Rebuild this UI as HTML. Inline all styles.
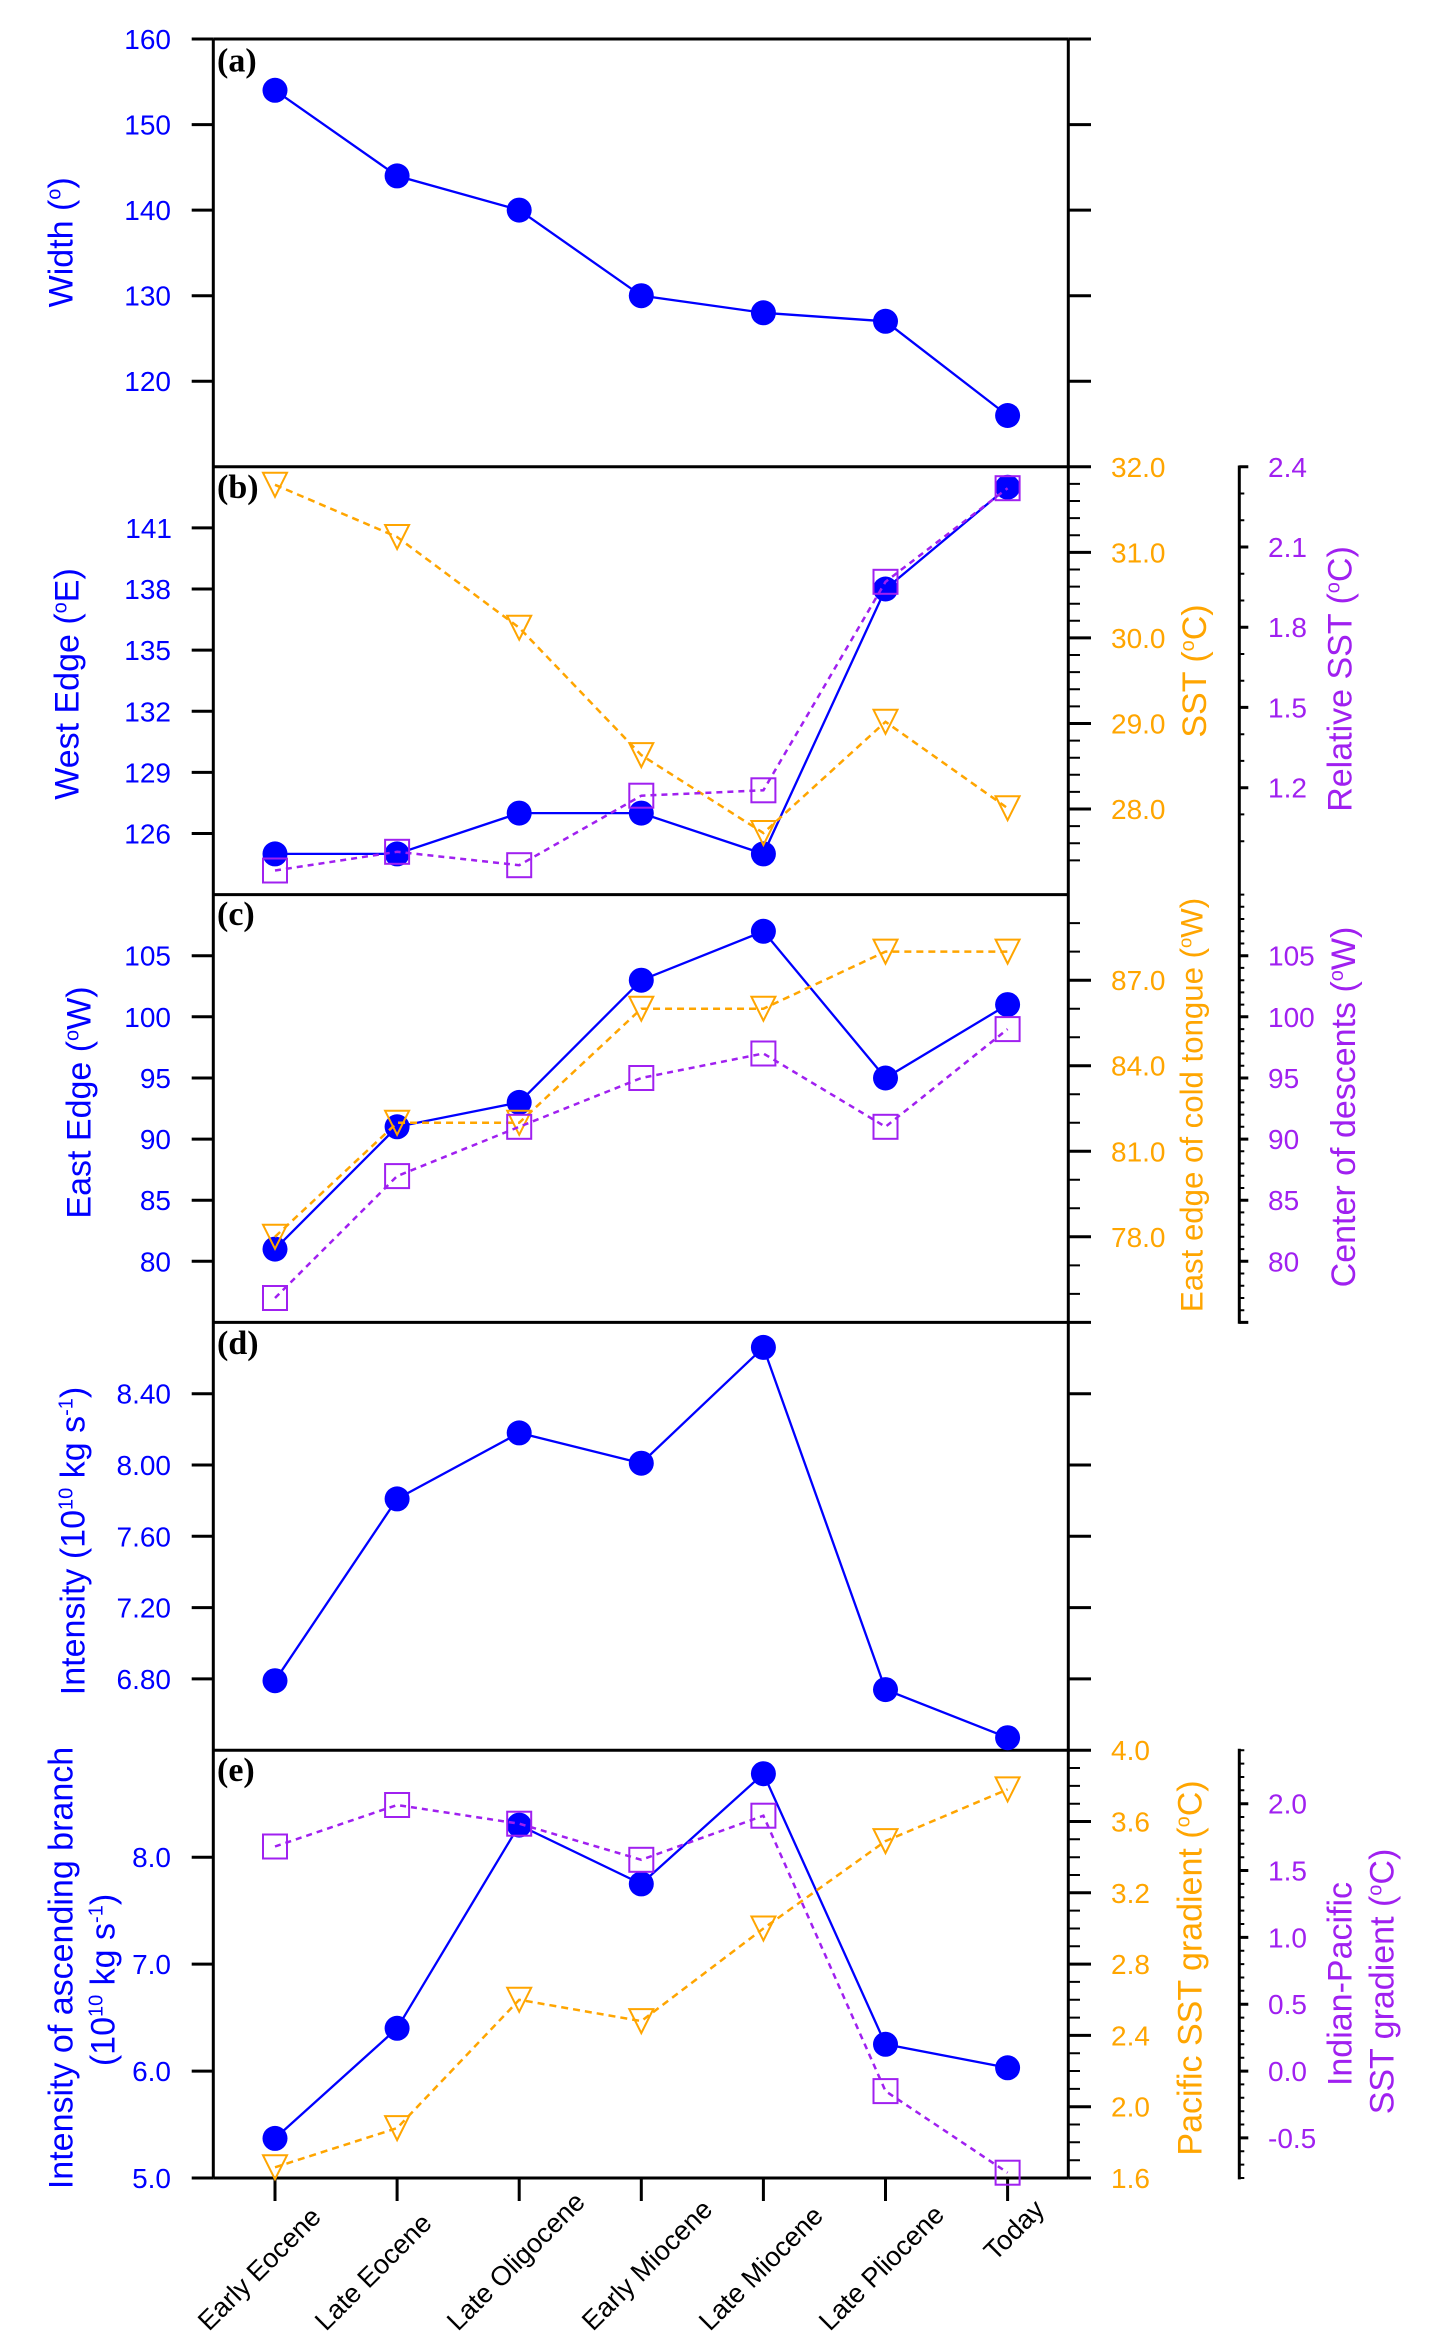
<!DOCTYPE html>
<html>
<head>
<meta charset="utf-8">
<style>
html,body{margin:0;padding:0;background:#fff;}
svg{display:block;}
text{font-family:"Liberation Sans",Arial,sans-serif;}
.pl{font-family:"Liberation Serif","Times New Roman",serif;font-weight:bold;font-size:34px;fill:#000;}
.tb{font-size:28px;fill:#0000FF;}
.to{font-size:28px;fill:#FFA500;}
.tp{font-size:28px;fill:#A020F0;}
.ttl{font-size:34px;}
.xl{font-size:27px;fill:#000;}
</style>
</head>
<body>
<svg width="1440" height="2351" viewBox="0 0 1440 2351" xmlns="http://www.w3.org/2000/svg">
<rect x="0" y="0" width="1440" height="2351" fill="#fff"/>

<!-- frames -->
<g stroke="#000" stroke-width="3" fill="none">
  <path d="M213.3 39 V2178 M1068.3 39 V2178 M213.3 39 H1068.3 M213.3 466.8 H1068.3 M213.3 894.6 H1068.3 M213.3 1322.4 H1068.3 M213.3 1750.2 H1068.3 M213.3 2178 H1068.3"/>
  <!-- left ticks -->
  <path d="M191.7 39 H213.3 M191.7 124.6 H213.3 M191.7 210.1 H213.3 M191.7 295.7 H213.3 M191.7 381.2 H213.3
  M191.7 527.9 H213.3 M191.7 589.0 H213.3 M191.7 650.1 H213.3 M191.7 711.3 H213.3 M191.7 772.4 H213.3 M191.7 833.5 H213.3
  M191.7 955.7 H213.3 M191.7 1016.8 H213.3 M191.7 1078.0 H213.3 M191.7 1139.1 H213.3 M191.7 1200.2 H213.3 M191.7 1261.3 H213.3
  M191.7 1393.7 H213.3 M191.7 1465.0 H213.3 M191.7 1536.3 H213.3 M191.7 1607.6 H213.3 M191.7 1678.9 H213.3
  M191.7 1857.2 H213.3 M191.7 1964.1 H213.3 M191.7 2071.1 H213.3 M191.7 2178.0 H213.3"/>
  <!-- right major ticks -->
  <path d="M1068.3 39 H1091 M1068.3 124.6 H1091 M1068.3 210.1 H1091 M1068.3 295.7 H1091 M1068.3 381.2 H1091
  M1068.3 466.8 H1091 M1068.3 552.4 H1091 M1068.3 637.9 H1091 M1068.3 723.5 H1091 M1068.3 809.0 H1091
  M1068.3 980.2 H1091 M1068.3 1065.7 H1091 M1068.3 1151.3 H1091 M1068.3 1236.8 H1091 M1068.3 1322.4 H1091
  M1068.3 1393.7 H1091 M1068.3 1465.0 H1091 M1068.3 1536.3 H1091 M1068.3 1607.6 H1091 M1068.3 1678.9 H1091
  M1068.3 1750.2 H1091 M1068.3 1821.5 H1091 M1068.3 1892.8 H1091 M1068.3 1964.1 H1091 M1068.3 2035.4 H1091 M1068.3 2106.7 H1091 M1068.3 2178.0 H1091"/>
  <!-- bottom ticks -->
  <path d="M275 2178 V2201 M397.1 2178 V2201 M519.2 2178 V2201 M641.3 2178 V2201 M763.4 2178 V2201 M885.5 2178 V2201 M1007.6 2178 V2201"/>
  <!-- purple axes lines -->
  <path d="M1239.3 465.5 V1323.8 M1239.3 1748.8 V2179.4"/>
  <!-- purple major ticks -->
  <path d="M1239.3 466.8 h9 M1239.3 547.0 h9 M1239.3 627.2 h9 M1239.3 707.4 h9 M1239.3 787.7 h9
  M1239.3 955.7 h9 M1239.3 1016.8 h9 M1239.3 1078.0 h9 M1239.3 1139.1 h9 M1239.3 1200.2 h9 M1239.3 1261.3 h9 M1239.3 1322.4 h9
  M1239.3 1803.7 h9 M1239.3 1870.5 h9 M1239.3 1937.4 h9 M1239.3 2004.2 h9 M1239.3 2071.1 h9 M1239.3 2137.9 h9"/>
</g>
<g stroke="#000" stroke-width="2" fill="none">
  <!-- orange minor ticks on main right axis -->
  <path d="M1068.3 483.9 H1080 M1068.3 501.0 H1080 M1068.3 518.1 H1080 M1068.3 535.3 H1080
  M1068.3 569.5 H1080 M1068.3 586.6 H1080 M1068.3 603.7 H1080 M1068.3 620.8 H1080
  M1068.3 655.0 H1080 M1068.3 672.1 H1080 M1068.3 689.3 H1080 M1068.3 706.4 H1080
  M1068.3 740.6 H1080 M1068.3 757.7 H1080 M1068.3 774.8 H1080 M1068.3 791.9 H1080
  M1068.3 826.1 H1080 M1068.3 843.2 H1080 M1068.3 860.4 H1080
  M1068.3 923.1 H1080 M1068.3 951.6 H1080 M1068.3 1008.7 H1080 M1068.3 1037.2 H1080 M1068.3 1094.2 H1080 M1068.3 1122.8 H1080
  M1068.3 1179.8 H1080 M1068.3 1208.3 H1080 M1068.3 1265.4 H1080 M1068.3 1293.9 H1080
  M1068.3 1768.0 H1080 M1068.3 1785.9 H1080 M1068.3 1803.7 H1080 M1068.3 1839.3 H1080 M1068.3 1857.2 H1080 M1068.3 1875.0 H1080
  M1068.3 1910.6 H1080 M1068.3 1928.5 H1080 M1068.3 1946.3 H1080 M1068.3 1981.9 H1080 M1068.3 1999.8 H1080 M1068.3 2017.6 H1080
  M1068.3 2053.2 H1080 M1068.3 2071.0 H1080 M1068.3 2088.9 H1080 M1068.3 2124.5 H1080 M1068.3 2142.3 H1080 M1068.3 2160.2 H1080"/>
  <!-- purple minor ticks -->
  <path d="M1239.3 493.5 h5 M1239.3 520.3 h5 M1239.3 573.8 h5 M1239.3 600.5 h5 M1239.3 654.0 h5 M1239.3 680.7 h5
  M1239.3 734.2 h5 M1239.3 760.9 h5 M1239.3 814.4 h5 M1239.3 841.2 h5
  M1239.3 894.6 h5 M1239.3 906.8 h5 M1239.3 919.0 h5 M1239.3 931.3 h5 M1239.3 943.5 h5 M1239.3 967.9 h5 M1239.3 980.2 h5
  M1239.3 992.4 h5 M1239.3 1004.6 h5 M1239.3 1029.1 h5 M1239.3 1041.3 h5 M1239.3 1053.5 h5 M1239.3 1065.7 h5
  M1239.3 1090.2 h5 M1239.3 1102.4 h5 M1239.3 1114.6 h5 M1239.3 1126.8 h5 M1239.3 1151.3 h5 M1239.3 1163.5 h5
  M1239.3 1175.7 h5 M1239.3 1188.0 h5 M1239.3 1212.4 h5 M1239.3 1224.6 h5 M1239.3 1236.8 h5 M1239.3 1249.1 h5
  M1239.3 1273.5 h5 M1239.3 1285.7 h5 M1239.3 1298.0 h5 M1239.3 1310.2 h5
  M1239.3 1750.2 h5 M1239.3 1763.6 h5 M1239.3 1777.0 h5 M1239.3 1790.3 h5 M1239.3 1817.0 h5 M1239.3 1830.4 h5
  M1239.3 1843.8 h5 M1239.3 1857.2 h5 M1239.3 1883.9 h5 M1239.3 1897.3 h5 M1239.3 1910.6 h5 M1239.3 1924.0 h5
  M1239.3 1950.7 h5 M1239.3 1964.1 h5 M1239.3 1977.5 h5 M1239.3 1990.8 h5 M1239.3 2017.6 h5 M1239.3 2030.9 h5
  M1239.3 2044.3 h5 M1239.3 2057.7 h5 M1239.3 2084.4 h5 M1239.3 2097.8 h5 M1239.3 2111.2 h5 M1239.3 2124.5 h5
  M1239.3 2151.3 h5 M1239.3 2164.6 h5 M1239.3 2178.0 h5"/>
</g>

<!-- left tick labels -->
<g class="tb" text-anchor="end">
  <text x="171" y="49">160</text><text x="171" y="134.6">150</text><text x="171" y="220.1">140</text><text x="171" y="305.7">130</text><text x="171" y="391.2">120</text>
  <text x="172" y="537.9">141</text><text x="171" y="599.0">138</text><text x="171" y="660.1">135</text><text x="171" y="721.3">132</text><text x="171" y="782.4">129</text><text x="171" y="843.5">126</text>
  <text x="171" y="965.7">105</text><text x="171" y="1026.8">100</text><text x="171" y="1088.0">95</text><text x="171" y="1149.1">90</text><text x="171" y="1210.2">85</text><text x="171" y="1271.3">80</text>
  <text x="171" y="1403.7">8.40</text><text x="171" y="1475.0">8.00</text><text x="171" y="1546.3">7.60</text><text x="171" y="1617.6">7.20</text><text x="171" y="1688.9">6.80</text>
  <text x="171" y="1867.2">8.0</text><text x="171" y="1974.1">7.0</text><text x="171" y="2081.1">6.0</text><text x="171" y="2188.0">5.0</text>
</g>
<!-- orange labels -->
<g class="to">
  <text x="1111" y="476.8">32.0</text><text x="1111" y="562.4">31.0</text><text x="1111" y="647.9">30.0</text><text x="1111" y="733.5">29.0</text><text x="1111" y="819.0">28.0</text>
  <text x="1111" y="990.2">87.0</text><text x="1111" y="1075.7">84.0</text><text x="1111" y="1161.3">81.0</text><text x="1111" y="1246.8">78.0</text>
  <text x="1111" y="1760.2">4.0</text><text x="1111" y="1831.5">3.6</text><text x="1111" y="1902.8">3.2</text><text x="1111" y="1974.1">2.8</text><text x="1111" y="2045.4">2.4</text><text x="1111" y="2116.7">2.0</text><text x="1111" y="2188.0">1.6</text>
</g>
<!-- purple labels -->
<g class="tp">
  <text x="1268" y="476.8">2.4</text><text x="1268" y="557.0">2.1</text><text x="1268" y="637.2">1.8</text><text x="1268" y="717.4">1.5</text><text x="1268" y="797.7">1.2</text>
  <text x="1268" y="965.7">105</text><text x="1268" y="1026.8">100</text><text x="1268" y="1088.0">95</text><text x="1268" y="1149.1">90</text><text x="1268" y="1210.2">85</text><text x="1268" y="1271.3">80</text>
  <text x="1268" y="1813.7">2.0</text><text x="1268" y="1880.5">1.5</text><text x="1268" y="1947.4">1.0</text><text x="1268" y="2014.2">0.5</text><text x="1268" y="2081.1">0.0</text><text x="1268" y="2147.9">-0.5</text>
</g>

<!-- axis titles -->
<g class="ttl" text-anchor="middle">
  <text fill="#0000FF" transform="translate(72.7,242.3) rotate(-90)">Width (<tspan font-size="20" dy="-12">o</tspan><tspan dy="12">)</tspan></text>
  <text fill="#0000FF" transform="translate(78.3,684) rotate(-90)">West Edge (<tspan font-size="20" dy="-12">o</tspan><tspan dy="12">E)</tspan></text>
  <text fill="#0000FF" transform="translate(90.7,1102.5) rotate(-90)">East Edge (<tspan font-size="20" dy="-12">o</tspan><tspan dy="12">W)</tspan></text>
  <text fill="#0000FF" transform="translate(84.3,1541) rotate(-90)">Intensity (10<tspan font-size="20" dy="-12">10</tspan><tspan dy="12"> kg s</tspan><tspan font-size="20" dy="-12">-1</tspan><tspan dy="12">)</tspan></text>
  <text fill="#0000FF" transform="translate(72.7,1968) rotate(-90)">Intensity of ascending branch</text>
  <text fill="#0000FF" transform="translate(114.3,1980) rotate(-90)">(10<tspan font-size="20" dy="-12">10</tspan><tspan dy="12"> kg s</tspan><tspan font-size="20" dy="-12">-1</tspan><tspan dy="12">)</tspan></text>

  <text fill="#FFA500" transform="translate(1206,671) rotate(-90)">SST (<tspan font-size="20" dy="-12">o</tspan><tspan dy="12">C)</tspan></text>
  <text fill="#A020F0" transform="translate(1351.7,679) rotate(-90)">Relative SST (<tspan font-size="20" dy="-12">o</tspan><tspan dy="12">C)</tspan></text>
  <text fill="#FFA500" font-size="31.2" transform="translate(1202.3,1105) rotate(-90)">East edge of cold tongue (<tspan font-size="18.5" dy="-11">o</tspan><tspan dy="11">W)</tspan></text>
  <text fill="#A020F0" transform="translate(1355,1107) rotate(-90)">Center of descents (<tspan font-size="20" dy="-12">o</tspan><tspan dy="12">W)</tspan></text>
  <text fill="#FFA500" transform="translate(1201.7,1968) rotate(-90)">Pacific SST gradient (<tspan font-size="20" dy="-12">o</tspan><tspan dy="12">C)</tspan></text>
  <text fill="#A020F0" transform="translate(1351.7,1984) rotate(-90)">Indian-Pacific</text>
  <text fill="#A020F0" transform="translate(1393.3,1981.5) rotate(-90)">SST gradient (<tspan font-size="20" dy="-12">o</tspan><tspan dy="12">C)</tspan></text>
</g>

<!-- panel labels -->
<text class="pl" x="217" y="71.5">(a)</text>
<text class="pl" x="217" y="498">(b)</text>
<text class="pl" x="217" y="925">(c)</text>
<text class="pl" x="217" y="1354">(d)</text>
<text class="pl" x="217" y="1781">(e)</text>

<!-- x labels -->
<g class="xl">
  <text transform="translate(209,2332) rotate(-45)">Early Eocene</text>
  <text transform="translate(326,2332) rotate(-45)">Late Eocene</text>
  <text transform="translate(458,2332) rotate(-45)">Late Oligocene</text>
  <text transform="translate(593,2332) rotate(-45)">Early Miocene</text>
  <text transform="translate(710,2332) rotate(-45)">Late Miocene</text>
  <text transform="translate(830,2332) rotate(-45)">Late Pliocene</text>
  <text transform="translate(995,2262) rotate(-45)">Today</text>
</g>

<!-- ===== Panel a ===== -->
<polyline fill="none" stroke="#0000FF" stroke-width="2.3" points="275,90.3 397.1,175.9 519.2,210.1 641.3,295.7 763.4,312.8 885.5,321.3 1007.6,415.5"/>
<g fill="#0000FF">
  <circle cx="275" cy="90.3" r="12.5"/><circle cx="397.1" cy="175.9" r="12.5"/><circle cx="519.2" cy="210.1" r="12.5"/><circle cx="641.3" cy="295.7" r="12.5"/><circle cx="763.4" cy="312.8" r="12.5"/><circle cx="885.5" cy="321.3" r="12.5"/><circle cx="1007.6" cy="415.5" r="12.5"/>
</g>

<!-- ===== Panel b ===== -->
<polyline fill="none" stroke="#0000FF" stroke-width="2.3" points="275,853.9 397.1,853.9 519.2,813.1 641.3,813.1 763.4,853.9 885.5,589.0 1007.6,487.2"/>
<g fill="#0000FF">
  <circle cx="275" cy="853.9" r="12.5"/><circle cx="397.1" cy="853.9" r="12.5"/><circle cx="519.2" cy="813.1" r="12.5"/><circle cx="641.3" cy="813.1" r="12.5"/><circle cx="763.4" cy="853.9" r="12.5"/><circle cx="885.5" cy="589.0" r="12.5"/><circle cx="1007.6" cy="487.2" r="12.5"/>
</g>
<polyline fill="none" stroke="#FFA500" stroke-width="2.5" stroke-dasharray="7 5" points="275,484.8 397.1,537.0 519.2,627.7 641.3,755.1 763.4,833.0 885.5,721.8 1007.6,808.2"/>
<g fill="none" stroke="#FFA500" stroke-width="2">
  <path d="M263 472.8 H287 L275 496.8 Z"/><path d="M385.1 525 H409.1 L397.1 549 Z"/><path d="M507.2 615.7 H531.2 L519.2 639.7 Z"/><path d="M629.3 743.1 H653.3 L641.3 767.1 Z"/><path d="M751.4 821 H775.4 L763.4 845 Z"/><path d="M873.5 709.8 H897.5 L885.5 733.8 Z"/><path d="M995.6 796.2 H1019.6 L1007.6 820.2 Z"/>
</g>
<polyline fill="none" stroke="#A020F0" stroke-width="2.5" stroke-dasharray="6 5" points="275,870.5 397.1,851.8 519.2,865.2 641.3,795.7 763.4,790.3 885.5,581.8 1007.6,488.2"/>
<g fill="none" stroke="#A020F0" stroke-width="2">
  <rect x="263" y="858.5" width="24" height="24"/><rect x="385.1" y="839.8" width="24" height="24"/><rect x="507.2" y="853.2" width="24" height="24"/><rect x="629.3" y="783.7" width="24" height="24"/><rect x="751.4" y="778.3" width="24" height="24"/><rect x="873.5" y="569.8" width="24" height="24"/><rect x="995.6" y="476.2" width="24" height="24"/>
</g>

<!-- ===== Panel c ===== -->
<polyline fill="none" stroke="#0000FF" stroke-width="2.3" points="275,1249.1 397.1,1126.8 519.2,1102.4 641.3,980.2 763.4,931.3 885.5,1078.0 1007.6,1004.6"/>
<g fill="#0000FF">
  <circle cx="275" cy="1249.1" r="12.5"/><circle cx="397.1" cy="1126.8" r="12.5"/><circle cx="519.2" cy="1102.4" r="12.5"/><circle cx="641.3" cy="980.2" r="12.5"/><circle cx="763.4" cy="931.3" r="12.5"/><circle cx="885.5" cy="1078.0" r="12.5"/><circle cx="1007.6" cy="1004.6" r="12.5"/>
</g>
<polyline fill="none" stroke="#FFA500" stroke-width="2.5" stroke-dasharray="7 5" points="275,1236.8 397.1,1122.8 519.2,1122.8 641.3,1008.7 763.4,1008.7 885.5,951.6 1007.6,951.6"/>
<g fill="none" stroke="#FFA500" stroke-width="2">
  <path d="M263 1224.8 H287 L275 1248.8 Z"/><path d="M385.1 1110.8 H409.1 L397.1 1134.8 Z"/><path d="M507.2 1110.8 H531.2 L519.2 1134.8 Z"/><path d="M629.3 996.7 H653.3 L641.3 1020.7 Z"/><path d="M751.4 996.7 H775.4 L763.4 1020.7 Z"/><path d="M873.5 939.6 H897.5 L885.5 963.6 Z"/><path d="M995.6 939.6 H1019.6 L1007.6 963.6 Z"/>
</g>
<polyline fill="none" stroke="#A020F0" stroke-width="2.5" stroke-dasharray="6 5" points="275,1298.0 397.1,1176.1 519.2,1126.8 641.3,1078.0 763.4,1053.5 885.5,1126.8 1007.6,1029.1"/>
<g fill="none" stroke="#A020F0" stroke-width="2">
  <rect x="263" y="1286" width="24" height="24"/><rect x="385.1" y="1164.1" width="24" height="24"/><rect x="507.2" y="1114.8" width="24" height="24"/><rect x="629.3" y="1066" width="24" height="24"/><rect x="751.4" y="1041.5" width="24" height="24"/><rect x="873.5" y="1114.8" width="24" height="24"/><rect x="995.6" y="1017.1" width="24" height="24"/>
</g>

<!-- ===== Panel d ===== -->
<polyline fill="none" stroke="#0000FF" stroke-width="2.3" points="275,1680.7 397.1,1498.9 519.2,1432.9 641.3,1463.2 763.4,1347.4 885.5,1689.6 1007.6,1737.7"/>
<g fill="#0000FF">
  <circle cx="275" cy="1680.7" r="12.5"/><circle cx="397.1" cy="1498.9" r="12.5"/><circle cx="519.2" cy="1432.9" r="12.5"/><circle cx="641.3" cy="1463.2" r="12.5"/><circle cx="763.4" cy="1347.4" r="12.5"/><circle cx="885.5" cy="1689.6" r="12.5"/><circle cx="1007.6" cy="1737.7" r="12.5"/>
</g>

<!-- ===== Panel e ===== -->
<polyline fill="none" stroke="#0000FF" stroke-width="2.3" points="275,2138.4 397.1,2028.3 519.2,1825.1 641.3,1883.9 763.4,1773.7 885.5,2044.3 1007.6,2067.8"/>
<g fill="#0000FF">
  <circle cx="275" cy="2138.4" r="12.5"/><circle cx="397.1" cy="2028.3" r="12.5"/><circle cx="519.2" cy="1825.1" r="12.5"/><circle cx="641.3" cy="1883.9" r="12.5"/><circle cx="763.4" cy="1773.7" r="12.5"/><circle cx="885.5" cy="2044.3" r="12.5"/><circle cx="1007.6" cy="2067.8" r="12.5"/>
</g>
<polyline fill="none" stroke="#FFA500" stroke-width="2.5" stroke-dasharray="7 5" points="275,2167.3 397.1,2128.1 519.2,1999.8 641.3,2021.1 763.4,1928.5 885.5,1841.1 1007.6,1789.4"/>
<g fill="none" stroke="#FFA500" stroke-width="2">
  <path d="M263 2155.3 H287 L275 2179.3 Z"/><path d="M385.1 2116.1 H409.1 L397.1 2140.1 Z"/><path d="M507.2 1987.8 H531.2 L519.2 2011.8 Z"/><path d="M629.3 2009.1 H653.3 L641.3 2033.1 Z"/><path d="M751.4 1916.5 H775.4 L763.4 1940.5 Z"/><path d="M873.5 1829.1 H897.5 L885.5 1853.1 Z"/><path d="M995.6 1777.4 H1019.6 L1007.6 1801.4 Z"/>
</g>
<polyline fill="none" stroke="#A020F0" stroke-width="2.5" stroke-dasharray="6 5" points="275,1846.5 397.1,1805.0 519.2,1823.7 641.3,1859.8 763.4,1815.7 885.5,2091.1 1007.6,2172.7"/>
<g fill="none" stroke="#A020F0" stroke-width="2">
  <rect x="263" y="1834.5" width="24" height="24"/><rect x="385.1" y="1793" width="24" height="24"/><rect x="507.2" y="1811.7" width="24" height="24"/><rect x="629.3" y="1847.8" width="24" height="24"/><rect x="751.4" y="1803.7" width="24" height="24"/><rect x="873.5" y="2079.1" width="24" height="24"/><rect x="995.6" y="2160.7" width="24" height="24"/>
</g>
</svg>
</body>
</html>
